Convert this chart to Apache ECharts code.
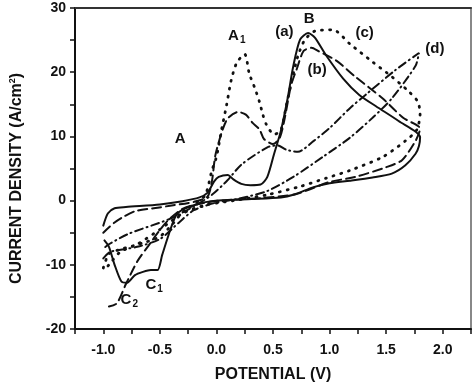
<!DOCTYPE html>
<html>
<head>
<meta charset="utf-8">
<script src="https://cdn.jsdelivr.net/npm/echarts@6/dist/echarts.min.js"></script>
<style>html,body{margin:0;padding:0;background:#fff;}#c{width:474px;height:388px;}</style>
</head>
<body>
<div id="c"></div>
<script>
// Curve (a) – solid
const curveA = [[-1.0,-3.9],[-0.96,-2.0],[-0.9,-1.2],[-0.8,-1.0],[-0.5,-0.6],[-0.3,-0.1],[-0.15,0.5],[-0.08,1.2],[-0.02,3.0],[0.02,3.7],[0.1,4.0],[0.15,3.3],[0.22,2.6],[0.3,2.4],[0.39,2.5],[0.45,3.7],[0.51,7.3],[0.57,10.9],[0.63,16.0],[0.68,21.0],[0.74,25.1],[0.81,26.1],[0.87,25.4],[0.97,22.6],[1.12,19.0],[1.26,16.5],[1.41,14.7],[1.61,12.4],[1.8,9.9],[1.79,8.5],[1.76,7.3],[1.67,5.5],[1.55,4.2],[1.38,3.6],[1.18,3.1],[1.0,2.7],[0.86,2.1],[0.68,0.9],[0.57,0.5],[0.31,0.25],[0.05,0.05],[-0.13,-0.36],[-0.3,-1.4],[-0.36,-2.4],[-0.42,-5.2],[-0.48,-8.5],[-0.52,-10.8],[-0.58,-10.8],[-0.65,-11.1],[-0.72,-11.6],[-0.79,-12.8],[-0.84,-12.6],[-0.9,-10.0],[-0.95,-7.2],[-0.99,-6.2]];
// Curve (b) – dashed
const curveB = [[-1.0,-5.0],[-0.9,-3.4],[-0.81,-2.4],[-0.71,-1.6],[-0.52,-1.1],[-0.41,-0.8],[-0.2,-0.2],[-0.08,0.6],[-0.04,3.0],[-0.01,7.0],[0.05,10.8],[0.1,12.8],[0.19,13.8],[0.26,13.4],[0.32,12.1],[0.38,11.1],[0.42,9.6],[0.5,8.8],[0.56,9.8],[0.6,12.5],[0.66,18.0],[0.71,20.5],[0.77,23.3],[0.84,23.8],[0.9,23.3],[1.06,21.8],[1.22,19.4],[1.47,15.9],[1.65,12.9],[1.8,11.2],[1.76,9.3],[1.64,6.3],[1.5,5.2],[1.23,3.7],[1.0,2.9],[0.7,1.0],[0.4,0.4],[0.1,0.1],[-0.1,-0.3],[-0.3,-1.3],[-0.45,-3.5],[-0.6,-7.0],[-0.7,-9.5],[-0.8,-13.0],[-0.88,-16.0],[-0.95,-16.5]];
// Curve (c) – dotted
const curveC = [[-1.0,-10.5],[-0.95,-8.3],[-0.85,-7.6],[-0.65,-6.6],[-0.5,-5.6],[-0.38,-3.5],[-0.3,-1.8],[-0.2,-0.6],[-0.1,0.8],[-0.04,4.7],[0.0,6.8],[0.046,11.1],[0.09,14.9],[0.13,18.7],[0.18,21.5],[0.25,22.8],[0.29,19.8],[0.34,17.5],[0.38,15.4],[0.41,13.4],[0.44,11.9],[0.51,10.3],[0.57,11.0],[0.62,15.0],[0.67,19.0],[0.72,22.5],[0.78,25.0],[0.87,26.4],[1.03,26.6],[1.18,24.4],[1.38,21.6],[1.55,19.3],[1.7,17.0],[1.78,15.4],[1.8,13.5],[1.77,11.0],[1.67,9.3],[1.47,6.8],[1.18,4.7],[0.97,3.5],[0.74,2.2],[0.45,0.9],[0.15,0.0],[-0.1,-0.7],[-0.3,-2.0],[-0.5,-4.5],[-0.7,-6.8],[-0.85,-8.0],[-0.95,-10.0],[-1.0,-11.0]];
// Curve (d) – dash-dot
const curveD = [[-1.0,-9.0],[-0.94,-8.0],[-0.7,-7.2],[-0.5,-6.0],[-0.33,-3.4],[-0.2,-1.5],[0.0,-0.3],[0.2,0.3],[0.45,1.5],[0.68,3.7],[0.94,6.8],[1.18,9.8],[1.38,12.9],[1.55,15.9],[1.76,21.0],[1.79,23.0],[1.58,20.3],[1.32,16.5],[1.18,14.4],[1.0,11.3],[0.86,9.3],[0.72,7.6],[0.62,7.9],[0.54,8.6],[0.45,8.3],[0.22,5.6],[0.1,3.2],[-0.04,0.9],[-0.2,-0.9],[-0.42,-2.9],[-0.78,-5.2],[-0.95,-6.8],[-1.0,-7.5]];

// Annotations
const noteText = ['A', 'A1', '(a)', 'B', '(b)', '(c)', '(d)', 'C1', 'C2'];
const noteX = [-0.32, 0.18, 0.6, 0.82, 0.89, 1.31, 1.93, -0.55, -0.77];
const noteY = [9.6, 25.6, 26.3, 28.3, 20.4, 26.1, 23.6, -13.1, -15.4];

// Axis ticks
const xMin = -1.25, xMax = 2.25, xStep = 0.25;
const yMin = -20, yMax = 30, yStep = 5;

const FONT = '"Liberation Sans", Arial, sans-serif';
const INK = '#111';

function lineSeries(data, type, width) {
  return {
    type: 'line', data: data, showSymbol: false, smooth: 0.25, animation: false,
    lineStyle: { color: INK, width: width, type: type, cap: 'round' }
  };
}

const noteData = noteText.map((t, i) => ({ value: [noteX[i], noteY[i]], name: t }));

const chart = echarts.init(document.getElementById('c'), null, { renderer: 'canvas' });
chart.setOption({
  animation: false,
  backgroundColor: '#fff',
  grid: { left: 71, right: 2, top: 8, bottom: 53 },
  xAxis: [{
    type: 'value', min: xMin, max: xMax, interval: xStep,
    name: 'POTENTIAL (V)', nameLocation: 'middle', nameGap: 38,
    nameTextStyle: { fontFamily: FONT, fontWeight: 'bold', fontSize: 16, color: INK },
    axisLine: { onZero: false, lineStyle: { color: INK, width: 2 } },
    axisTick: { show: true, length: 5, lineStyle: { color: INK, width: 1.5 } },
    axisLabel: {
      margin: 14, fontFamily: FONT, fontWeight: 'bold', fontSize: 14, color: INK,
      formatter: v => (Math.abs(Math.round(v * 2) - v * 2) < 1e-6 && v >= -1 && v <= 2) ? v.toFixed(1) : ''
    },
    splitLine: { show: false }
  }, {
    type: 'value', position: 'top', min: xMin, max: xMax, interval: xStep,
    axisLine: { onZero: false, lineStyle: { color: '#333', width: 2 } },
    axisTick: { show: false }, axisLabel: { show: false }, splitLine: { show: false }
  }],
  yAxis: [{
    type: 'value', min: yMin, max: yMax, interval: yStep,
    name: '{n|CURRENT DENSITY (A/cm}{s|2}{n|)}', nameLocation: 'middle', nameGap: 50,
    nameRotate: 90,
    nameTextStyle: {
      padding: [0, 20, 0, 0],
      rich: {
        n: { fontFamily: FONT, fontWeight: 'bold', fontSize: 16, color: INK },
        s: { fontFamily: FONT, fontWeight: 'bold', fontSize: 9, color: INK, verticalAlign: 'top', padding: [0, 0, 8, 0] }
      }
    },
    axisLine: { onZero: false, lineStyle: { color: INK, width: 2 } },
    axisTick: { show: true, length: 5, lineStyle: { color: INK, width: 1.5 } },
    axisLabel: {
      margin: 9, fontFamily: FONT, fontWeight: 'bold', fontSize: 14, color: INK,
      formatter: v => (v % 10 === 0) ? String(v) : ''
    },
    splitLine: { show: false }
  }, {
    type: 'value', position: 'right', min: yMin, max: yMax, interval: yStep,
    axisLine: { onZero: false, lineStyle: { color: '#888', width: 2 } },
    axisTick: { show: false }, axisLabel: { show: false }, splitLine: { show: false }
  }],
  series: [
    lineSeries(curveA, 'solid', 2),
    lineSeries(curveB, [9, 5], 2),
    lineSeries(curveC, [1, 7], 2.8),
    lineSeries(curveD, [8, 4, 1, 4], 2),
    {
      type: 'scatter', data: noteData, symbolSize: 0, animation: false, silent: true,
      itemStyle: { color: INK, opacity: 1 },
      label: {
        show: true, position: 'inside', color: INK, textBorderWidth: 0, opacity: 1,
        formatter: p => {
          const t = p.name;
          if (/^[AC]\d$/.test(t)) return '{m|' + t[0] + '}{s|' + t[1] + '}';
          return '{m|' + t + '}';
        },
        rich: {
          m: { fontFamily: FONT, fontWeight: 'bold', fontSize: 15, color: INK, textBorderWidth: 0 },
          s: { fontFamily: FONT, fontWeight: 'bold', fontSize: 10, color: INK, textBorderWidth: 0, verticalAlign: 'bottom', padding: [9, 0, 0, 1] }
        }
      }
    }
  ]
});
</script>
</body>
</html>
